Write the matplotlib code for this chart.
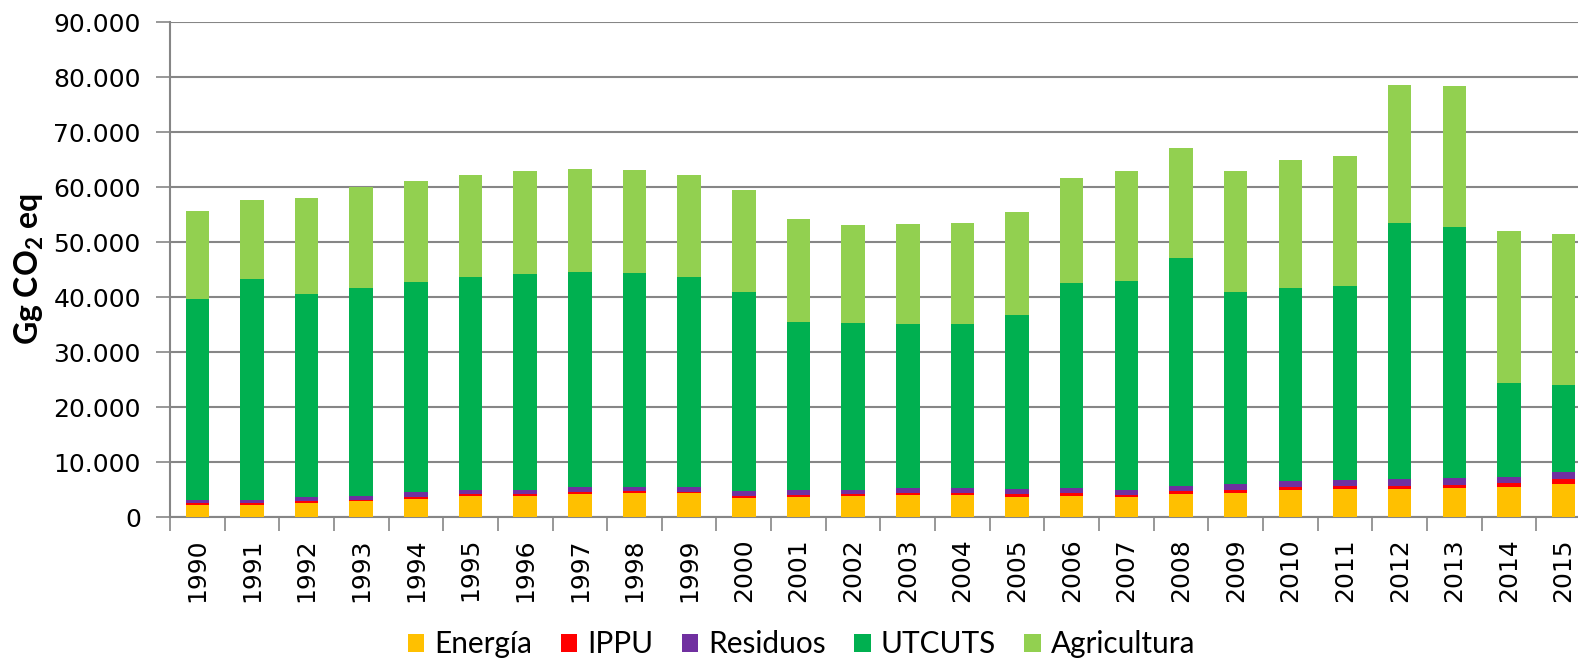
"""
Emisiones GEI por sector 1990-2015 (barras apiladas)
"""

import numpy as np
import matplotlib
matplotlib.use('Agg')
import matplotlib.pyplot as plt
from matplotlib.ticker import FixedLocator

# datos (Gg CO2 eq)
years = [str(y) for y in range(1990, 2016)]
energia = [2250, 2250, 2550, 2930, 3400, 3840, 3780, 4200, 4390, 4330,
           3540, 3720, 3840, 4020, 4020, 3720, 3840, 3600, 4200, 4450,
           4940, 5180, 5060, 5240, 5490, 6040]
ippu = [300, 300, 370, 240, 300, 430, 420, 430, 310, 300,
        420, 300, 310, 430, 430, 430, 490, 420, 500, 550,
        550, 430, 610, 610, 730, 980]
residuos = [560, 560, 680, 790, 810, 730, 800, 800, 790, 860,
            800, 860, 850, 920, 920, 970, 970, 980, 1030, 980,
            1030, 1100, 1220, 1220, 1160, 1290]
utcuts = [36530, 40190, 37070, 37740, 38340, 38700, 39300, 39170, 39010, 38270,
          36270, 30620, 30400, 29830, 29730, 31670, 37250, 38030, 41480, 35050,
          35120, 35290, 46560, 45720, 17020, 15710]
agricultura = [16120, 14430, 17330, 18300, 18300, 18480, 18600, 18670, 18600, 18480,
               18490, 18700, 17810, 18070, 18480, 18660, 19090, 20000, 20000, 22000,
               23270, 23700, 25100, 25630, 27720, 27430]

series = [energia, ippu, residuos, utcuts, agricultura]
names = ['Energía', 'IPPU', 'Residuos', 'UTCUTS', 'Agricultura']
colors = ['#FFC000', '#FF0000', '#7030A0', '#00B050', '#92D050']

yticks = [0, 10000, 20000, 30000, 40000, 50000, 60000, 70000, 80000, 90000]
ytick_labels = ['0', '10.000', '20.000', '30.000', '40.000', '50.000',
                '60.000', '70.000', '80.000', '90.000']

fs = 18
grid_c = '#868686'

fig = plt.figure(figsize=(15.78, 6.62), dpi=100)
ax = fig.add_axes([0.1077, 0.2186, 0.9005, 0.7477])

x = np.arange(len(years))
bottom = np.zeros(len(years))
for vals, name, c in zip(series, names, colors):
    ax.bar(x, vals, width=0.43, bottom=bottom, color=c, label=name,
           edgecolor='none', zorder=3)
    bottom += np.array(vals)

ax.set_xlim(-0.5, len(years) - 0.5)
ax.set_ylim(0, 90000)

# eje y
ax.set_yticks(yticks)
ax.set_yticklabels(ytick_labels, fontsize=fs, family='DejaVu Sans')
ax.yaxis.grid(True, color=grid_c, lw=1.5, zorder=0)
ax.tick_params(axis='y', length=10, width=1.2, color=grid_c, pad=11)

# eje x: etiquetas en el centro, marcas entre barras
ax.set_xticks(x)
ax.set_xticklabels(years, rotation=90, fontsize=fs, family='DejaVu Sans')
ax.tick_params(axis='x', which='major', length=0, pad=15)
ax.xaxis.set_minor_locator(FixedLocator(np.arange(-0.5, len(years), 1.0)))
ax.tick_params(axis='x', which='minor', length=10, width=1.2, color=grid_c)

for s in ['top', 'right']:
    ax.spines[s].set_visible(False)
for s in ['left', 'bottom']:
    ax.spines[s].set_color(grid_c)
    ax.spines[s].set_linewidth(1.5)

plt.rcParams['mathtext.fontset'] = 'custom'
plt.rcParams['mathtext.bf'] = 'Lato:bold'
plt.rcParams['mathtext.rm'] = 'Lato'
fig.text(0.0184, 0.594, r'Gg CO$_\mathbf{2}$ eq', rotation=90, fontsize=23,
         fontweight='bold', family='Lato', ha='center', va='center')

fig.legend(loc='center', bbox_to_anchor=(0.508, 0.027), ncol=5, frameon=False,
           prop={'family': 'Lato', 'size': 21.4}, handlelength=0.55, handleheight=0.55,
           handletextpad=0.35, columnspacing=0.95, borderaxespad=0)

plt.savefig('out.png', dpi=100)
plt.close()
